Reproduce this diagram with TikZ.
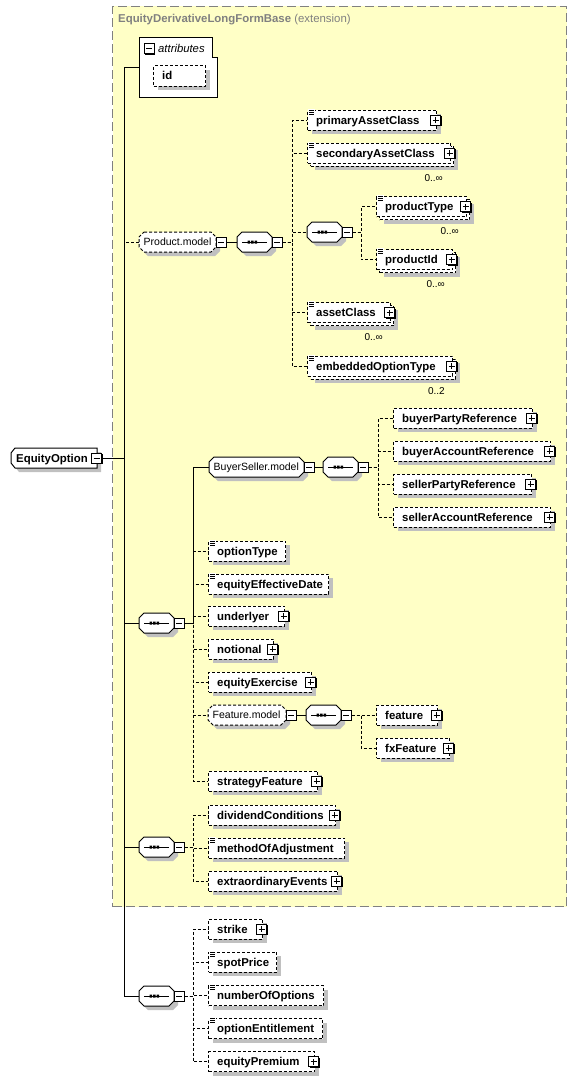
\documentclass[tikz,border=0pt]{standalone}
\usepackage{fontspec}
\setmainfont{Liberation Sans}
\usetikzlibrary{shadows}
\definecolor{extbg}{RGB}{255,255,198}
\definecolor{shd}{RGB}{192,192,192}
\definecolor{ttl}{RGB}{128,128,128}
\newcommand\bfont{\fontsize{11.4}{13}\selectfont\bfseries}
\newcommand\rfont{\fontsize{10.5}{12}\selectfont}
\newcommand\mfont{\fontsize{10}{12}\selectfont}
\tikzset{
 lw/.style={line width=1pt},
 dsh/.style={dash pattern=on 3pt off 2pt},
 ebox/.style={draw, fill=white, line width=1pt, minimum height=20, inner sep=0, anchor=west},
 shdw/.style={drop shadow={shadow xshift=4pt, shadow yshift=-4pt, fill=shd, opacity=1}},
 lbl/.style={anchor=base west, inner sep=0, font=\bfont},
 glbl/.style={anchor=base west, inner sep=0, font=\rfont},
 mult/.style={anchor=base east, inner sep=0, font=\mfont},
 pm/.style={draw, fill=white, line width=1pt, minimum size=10, inner sep=0, drop shadow={shadow xshift=1pt, shadow yshift=-1pt, fill=black, opacity=1}},
 plusb/.style={path picture={\draw[line width=1pt] ([xshift=2pt]path picture bounding box.west) -- ([xshift=-2pt]path picture bounding box.east) ([yshift=2pt]path picture bounding box.south) -- ([yshift=-2pt]path picture bounding box.north);}},
 minusb/.style={path picture={\draw[line width=1pt] ([xshift=2pt]path picture bounding box.west) -- ([xshift=-2pt]path picture bounding box.east);}},
}
% element: [opts]{name}{x}{y}{w}{label}
\newcommand\dElem[6][]{%
 \node[ebox,shdw,dsh,minimum width=#5,#1] (#2) at (#3,#4) {};
 \node[lbl] (#2-t) at (#3+9,#4+4) {#6};}
% multiple element: {name}{x}{y}{w}{label}
\newcommand\dMulti[5]{%
 \node[ebox,shdw,dsh,minimum width=#4] (#1-b) at (#2+3,#3+3) {};
 \node[ebox,dsh,minimum width=#4] (#1) at (#2,#3) {};
 \node[lbl] (#1-t) at (#2+9,#3+4) {#5};}
\newcommand\dMult[2]{\node[mult] (#1-c) at ([shift={(-8,17.5)}]#1.south east) {#2};}
\newcommand\dPlus[1]{\node[pm,plusb] (#1-p) at ([xshift=-1.5pt]#1.east) {};}
\newcommand\dIcon[1]{%
 \fill[white] ([shift={(1,-1)}]#1.north west) rectangle ([shift={(8,5.5)}]#1.north west);
 \draw[line width=0.7pt] ([shift={(2,0.5)}]#1.north west) -- ++(5,0) ([shift={(2,2.5)}]#1.north west) -- ++(5,0) ([shift={(2,4.5)}]#1.north west) -- ++(5,0);}
\newcommand\dOct[4]{\path[#1] (#2+5,#3-10) -- (#2+#4-5,#3-10) -- (#2+#4,#3-5) -- (#2+#4,#3+5) -- (#2+#4-5,#3+10) -- (#2+5,#3+10) -- (#2,#3+5) -- (#2,#3-5) -- cycle;}
\newcommand\dSeq[3]{%
 \dOct{fill=shd}{#2+4}{#3+4}{35}
 \dOct{draw,fill=white,lw}{#2}{#3}{35}
 \draw[lw] (#2+5,#3) -- (#2+30,#3);
 \fill (#2+10.5,#3-1.5) rectangle ++(2.5,3) (#2+14,#3-1.5) rectangle ++(2.5,3) (#2+17.5,#3-1.5) rectangle ++(2.5,3);
 \node[inner sep=0,minimum width=35,minimum height=20,anchor=west] (#1) at (#2,#3) {};
 \node[pm,minusb] (#1-m) at (#2+40,#3) {};}
\newcommand\dGroup[6][]{%
 \dOct{fill=shd}{#3+4}{#4+4}{#5}
 \dOct{draw,fill=white,lw,#1}{#3}{#4}{#5}
 \node[inner sep=0,minimum width=#5,minimum height=20,anchor=west] (#2) at (#3,#4) {};
 \node[glbl] (#2-t) at (#3+4.5,#4+3.8) {#6};
 \node[pm,minusb] (#2-m) at (#3+#5+5,#4) {};}
\begin{document}
\begin{tikzpicture}[x=1pt,y=-1pt]
\useasboundingbox (0,0) rectangle (576,1081);
\node[draw=ttl, dash pattern=on 9pt off 4pt, fill=extbg, line width=1pt, inner sep=0, minimum width=454, minimum height=900, anchor=north west] (ext) at (112,6) {};
\node[anchor=base west, inner sep=0, text=ttl, font=\bfont] (extt) at (118,23) {EquityDerivativeLongFormBase \mdseries(extension)};
% attributes
\node[inner sep=0, minimum width=78, minimum height=59, anchor=north west] (attr) at (139,38) {};
\draw[lw, fill=white] (139,38) -- (212,38) -- (212,58) -- (217,58) -- (217,97) -- (139,97) -- cycle;
\node[pm,minusb] (attr-m) at (149,49) {};
\node[anchor=base west, inner sep=0, font=\fontsize{11.3}{13}\selectfont\itshape] (attr-t) at (158,52.5) {attributes};
\dElem{id}{153}{76}{52}{id}
% root
\fill[shd] (19,452) -- (101,452) -- (101,472) -- (19,472) -- (15,467) -- (15,457) -- cycle;
\draw[lw, fill=white] (15,448) -- (97,448) -- (97,468) -- (15,468) -- (11,463) -- (11,453) -- cycle;
\node[inner sep=0, minimum width=86, minimum height=20, anchor=west] (eo) at (11,458) {};
\node[lbl] (eo-t) at (16,462) {EquityOption};
\node[pm,minusb] (eo-m) at (96.5,458) {};
% Product.model
\dGroup[dsh]{pm}{139}{242}{77}{Product.model}
\dSeq{ps}{237}{242}
\dElem{pac}{307}{120}{129}{primaryAssetClass}\dIcon{pac}\dPlus{pac}
\dMulti{sac}{307}{153}{143}{secondaryAssetClass}\dIcon{sac}\dPlus{sac}\dMult{sac}{0..∞}
\dSeq{ips}{307}{232}
\dMulti{pt}{376}{206.5}{90}{productType}\dIcon{pt}\dPlus{pt}\dMult{pt}{0..∞}
\dMulti{pid}{376}{259.5}{76}{productId}\dIcon{pid}\dPlus{pid}\dMult{pid}{0..∞}
\dMulti{ac}{307}{312.5}{83}{assetClass}\dIcon{ac}\dPlus{ac}\dMult{ac}{0..∞}
\dMulti{eot}{307}{366}{145}{embeddedOptionType}\dIcon{eot}\dPlus{eot}\dMult{eot}{0..2}
% BuyerSeller
\dSeq{s1}{139}{623}
\dGroup{bsm}{209}{467}{95}{BuyerSeller.model}
\dSeq{bss}{323}{467}
\dElem{bpr}{393}{418}{139}{buyerPartyReference}\dPlus{bpr}
\dElem{bar}{393}{451}{157}{buyerAccountReference}\dPlus{bar}
\dElem{spr}{393}{484}{138}{sellerPartyReference}\dPlus{spr}
\dElem{sar}{393}{517}{157}{sellerAccountReference}\dPlus{sar}
\dElem{ot}{208}{551}{77}{optionType}\dIcon{ot}
\dElem{eed}{208}{584}{120}{equityEffectiveDate}\dIcon{eed}
\dElem{und}{208}{616}{76}{underlyer}\dPlus{und}
\dElem{not}{208}{649}{65}{notional}\dPlus{not}
\dElem{eex}{208}{682}{103}{equityExercise}\dPlus{eex}
\dGroup[dsh]{fm}{208}{715}{78}{Feature.model}
\dSeq{fs}{306}{715}
\dElem{feat}{376}{715}{61}{feature}\dPlus{feat}
\dElem{fxf}{376}{748}{73}{fxFeature}\dPlus{fxf}
\dElem{stf}{208}{781}{109}{strategyFeature}\dPlus{stf}
% third
\dSeq{s2}{139}{847}
\dElem{dc}{208}{815}{127}{dividendConditions}\dPlus{dc}
\dElem{moa}{208}{848}{136}{methodOfAdjustment}\dIcon{moa}
\dElem{eev}{208}{881}{129}{extraordinaryEvents}\dPlus{eev}
% fourth
\dSeq{s3}{139}{996}
\dElem{str}{208}{929}{54}{strike}\dPlus{str}
\dElem{spp}{208}{962}{68}{spotPrice}\dIcon{spp}
\dElem{noo}{208}{995.5}{115}{numberOfOptions}\dIcon{noo}
\dElem{oe}{208}{1028.5}{114}{optionEntitlement}\dIcon{oe}
\dElem{ep}{208}{1061.5}{106}{equityPremium}\dPlus{ep}
% connectors
\draw[lw] (eo-m.east) -| ([xshift=-15pt]attr.west) -- (attr.west);
\draw[lw,dsh] (eo-m.east) -| ([xshift=-15pt]pm.west) -- (pm.west);
\foreach \c in {s1,s2,s3} \draw[lw] (eo-m.east) -| ([xshift=-15pt]\c.west) -- (\c.west);
\draw[lw] (pm-m.east) -- (ps.west);
\foreach \c in {pac,sac,ips,ac,eot} \draw[lw,dsh] (ps-m.east) -| ([xshift=-15pt]\c.west) -- (\c.west);
\foreach \c in {pt,pid} \draw[lw,dsh] (ips-m.east) -| ([xshift=-15pt]\c.west) -- (\c.west);
\foreach \c in {ot,eed,und,not,eex,fm,stf} \draw[lw,dsh] (s1-m.east) -| ([xshift=-15pt]\c.west) -- (\c.west);
\draw[lw] (s1-m.east) -| ([xshift=-16pt]bsm.west) -- (bsm.west);
\draw[lw] (bsm-m.east) -- (bss.west);
\foreach \c in {bpr,bar,spr,sar} \draw[lw,dsh] (bss-m.east) -| ([xshift=-15pt]\c.west) -- (\c.west);
\draw[lw] (fm-m.east) -- (fs.west);
\foreach \c in {feat,fxf} \draw[lw,dsh] (fs-m.east) -| ([xshift=-15pt]\c.west) -- (\c.west);
\foreach \c in {dc,moa,eev} \draw[lw,dsh] (s2-m.east) -| ([xshift=-15pt]\c.west) -- (\c.west);
\foreach \c in {str,spp,noo,oe,ep} \draw[lw,dsh] (s3-m.east) -| ([xshift=-15pt]\c.west) -- (\c.west);
\end{tikzpicture}
\end{document}
